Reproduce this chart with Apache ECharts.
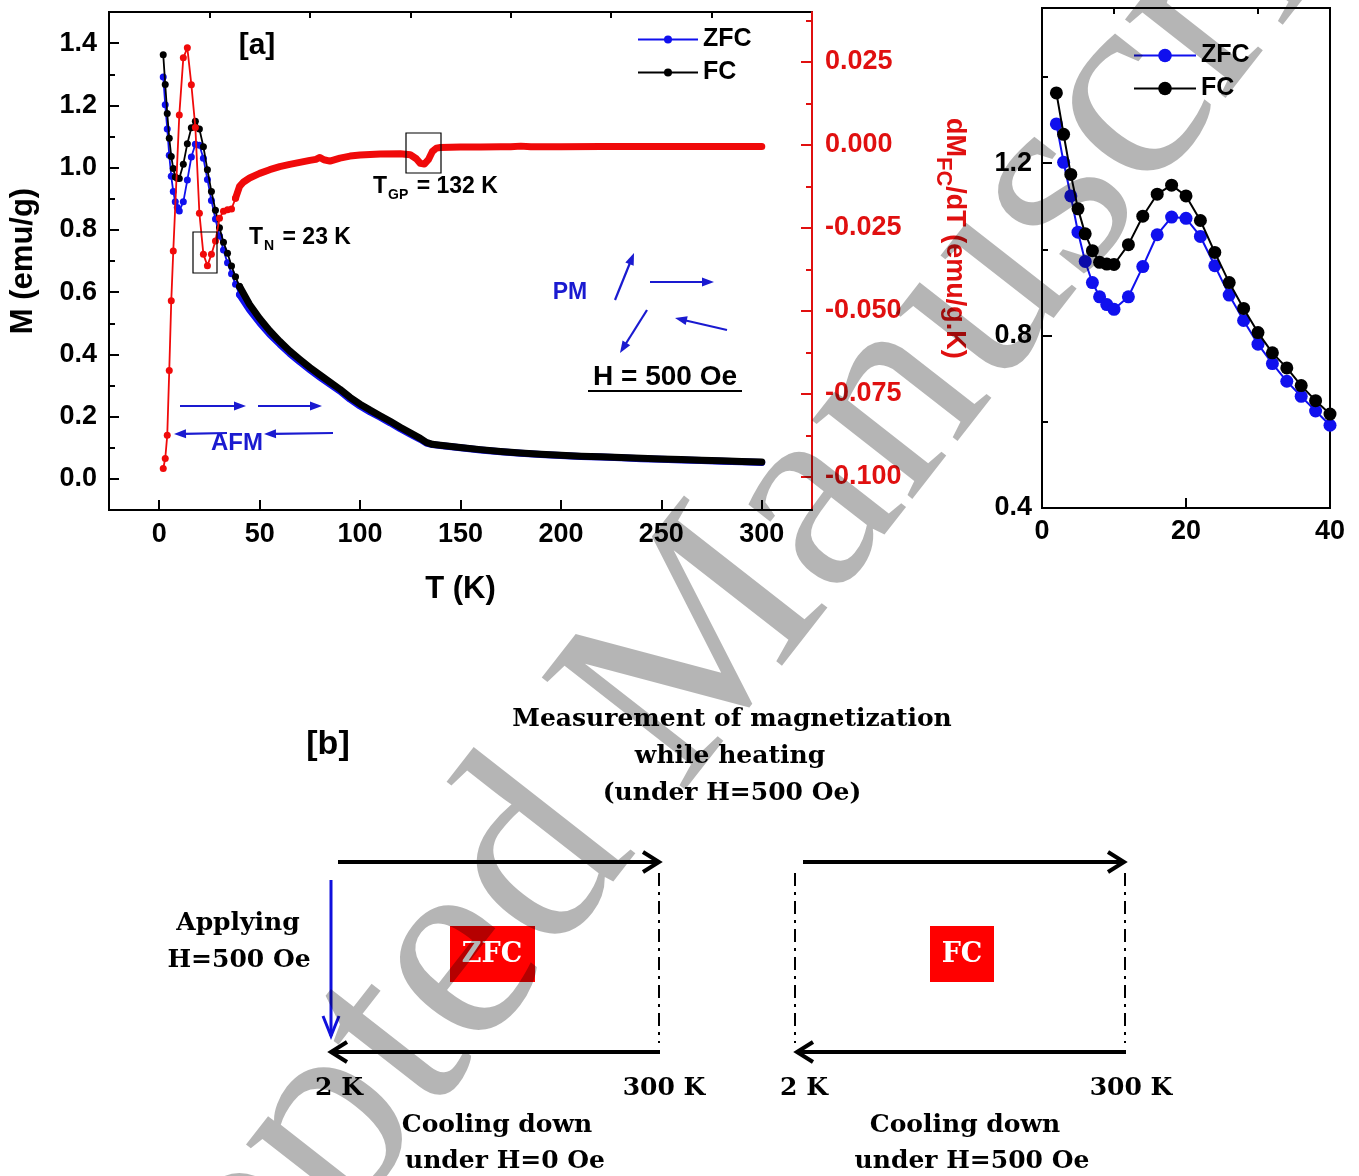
<!DOCTYPE html>
<html><head><meta charset="utf-8">
<script src="https://cdn.jsdelivr.net/npm/echarts@6/dist/echarts.min.js"></script>
<style>html,body{margin:0;padding:0;background:#fff}#c{width:1359px;height:1176px}</style>
</head><body><div id="c"></div>
<script>
// ---------- data ----------
const T_low   = [2,3,4,5,6,7,8,9,10,12,14,16,18,20,22,24,26,28,30,32,34,36,38,40];
const zfc_low = [1.291,1.202,1.124,1.040,0.972,0.923,0.890,0.872,0.861,0.890,0.960,1.034,1.075,1.072,1.030,0.962,0.894,0.835,0.780,0.735,0.694,0.659,0.625,0.592];
const fc_low  = [1.363,1.267,1.174,1.094,1.036,0.997,0.970,0.966,0.965,1.011,1.077,1.128,1.149,1.124,1.067,0.993,0.923,0.863,0.807,0.760,0.725,0.684,0.649,0.618];

const T_high   = [40,45,50,55,60,65,70,75,80,85,90,95,100,105,110,115,120,125,130,133,136,140,150,160,170,180,190,200,210,220,230,240,250,260,270,280,290,300];
const fc_high  = [0.618,0.560,0.515,0.476,0.442,0.411,0.384,0.358,0.334,0.311,0.288,0.262,0.240,0.221,0.203,0.185,0.166,0.148,0.130,0.117,0.111,0.108,0.101,0.094,0.088,0.083,0.079,0.076,0.073,0.071,0.069,0.066,0.064,0.062,0.060,0.058,0.056,0.054];
const zfc_high = [0.592,0.543,0.502,0.465,0.433,0.403,0.376,0.351,0.327,0.304,0.282,0.256,0.234,0.215,0.198,0.180,0.161,0.144,0.127,0.115,0.110,0.107,0.100,0.093,0.087,0.082,0.078,0.075,0.072,0.070,0.068,0.065,0.063,0.061,0.059,0.057,0.055,0.053];

const T_d_low = [2,3,4,5,6,7,10,12,14,16,18,20,22,24,26,28,30,32,34,36,38];
const d_low   = [-0.0975,-0.0945,-0.0875,-0.068,-0.047,-0.032,0.009,0.0262,0.0292,0.0181,0.0052,-0.0206,-0.033,-0.0364,-0.033,-0.029,-0.0221,-0.0200,-0.0196,-0.0193,-0.0161];
const T_d_high = [38,40,42,45,50,55,60,65,70,75,78,80,82,85,90,95,100,110,120,125,128,130,132,134,136,138,140,150,160,170,175,180,185,190,200,220,240,260,280,300];
const d_high   = [-0.0161,-0.0125,-0.0112,-0.0100,-0.0086,-0.0075,-0.0066,-0.0059,-0.0053,-0.0047,-0.0044,-0.0038,-0.0045,-0.0049,-0.0040,-0.0034,-0.0031,-0.0028,-0.0027,-0.0030,-0.0042,-0.0056,-0.0058,-0.0045,-0.0020,-0.0010,-0.0008,-0.0007,-0.0007,-0.0006,-0.0006,-0.0004,-0.0006,-0.0006,-0.0006,-0.0005,-0.0005,-0.0005,-0.0005,-0.0005];

// tick labels
const xMajor = [0,50,100,150,200,250,300];
const xMinor = [25,75,125,175,225,275];
const yMajor = [0,0.2,0.4,0.6,0.8,1.0,1.2,1.4];
const yMinor = [0.1,0.3,0.5,0.7,0.9,1.1,1.3];
const rMajor = [-0.1,-0.075,-0.05,-0.025,0,0.025];
const rMinor = [-0.0875,-0.0625,-0.0375,-0.0125,0.0125,0.0375];
const ixMajor = [0,20,40];
const ixMinor = [10,30];
const iyLabels = [0.4,0.8,1.2];
const iyMajor = [0.8,1.2];
const iyMinor = [0.6,1.0,1.4];

// ---------- style ----------
const SANS = "'Liberation Sans', Arial, sans-serif";
const SERIF = "'DejaVu Serif', serif";
const BLUE = '#1010ee', BLACK = '#000', RED = '#f00a0a', RAX = '#e01010', ABLUE = '#1a1ad0';

const pairs = (xs, ys) => xs.map((x, i) => [x, ys[i]]);

function tickAxis(extra) {
  return Object.assign({
    type: 'value', splitLine: {show: false},
    axisLine: {show: false, onZero: false},
    axisTick: {show: false}, axisLabel: {show: false}
  }, extra);
}
const lab = (vals, fmt, color, margin) => ({
  show: true, customValues: vals, formatter: fmt, color: color || '#000',
  fontSize: 27, fontWeight: 'bold', fontFamily: SANS, margin: margin
});
const tk = (vals, len, color) => ({
  show: true, inside: true, customValues: vals, length: len,
  lineStyle: {color: color || '#000', width: 2}
});
const line = (color) => ({show: true, onZero: false, lineStyle: {color: color, width: 2}});

// ---------- graphic helpers ----------
function arrowFilled(x1, y1, x2, y2, color, w, hl, hw) {
  const dx = x2 - x1, dy = y2 - y1, L = Math.hypot(dx, dy), ux = dx / L, uy = dy / L;
  const bx = x2 - ux * hl, by = y2 - uy * hl, px = -uy, py = ux;
  return [
    {type: 'line', shape: {x1: x1, y1: y1, x2: bx + ux * 2, y2: by + uy * 2}, style: {stroke: color, lineWidth: w}},
    {type: 'polygon', shape: {points: [[x2, y2], [bx + px * hw, by + py * hw], [bx - px * hw, by - py * hw]]}, style: {fill: color}}
  ];
}
function arrowOpen(x1, y1, x2, y2, color, w, hl, hw) {
  const dx = x2 - x1, dy = y2 - y1, L = Math.hypot(dx, dy), ux = dx / L, uy = dy / L;
  const bx = x2 - ux * hl, by = y2 - uy * hl, px = -uy, py = ux;
  return [
    {type: 'line', shape: {x1: x1, y1: y1, x2: x2, y2: y2}, style: {stroke: color, lineWidth: w}},
    {type: 'polyline', shape: {points: [[bx + px * hw, by + py * hw], [x2, y2], [bx - px * hw, by - py * hw]]}, style: {stroke: color, lineWidth: w, fill: null}}
  ];
}
function txt(x, y, s, size, opts) {
  opts = opts || {};
  return {type: 'text', x: x, y: y, z: opts.z || 50,
    style: {text: s, fill: opts.color || '#000', fontSize: size, fontWeight: opts.weight || 'bold',
      fontFamily: opts.family || SANS, textAlign: opts.align || 'center', textVerticalAlign: 'middle'}};
}

const g = [];
// panel (a) annotations
g.push(txt(257, 46, '[a]', 30));
g.push({type: 'rect', shape: {x: 193, y: 232, width: 24, height: 41}, style: {fill: null, stroke: '#000', lineWidth: 1.2}, z: 60});
g.push({type: 'rect', shape: {x: 406, y: 133, width: 35, height: 40}, style: {fill: null, stroke: '#000', lineWidth: 1.2}, z: 60});
const richA = {
  a: {fontSize: 23, fontWeight: 'bold', fontFamily: SANS, fill: '#000', lineHeight: 24, verticalAlign: 'top'},
  b: {fontSize: 14, fontWeight: 'bold', fontFamily: SANS, fill: '#000', lineHeight: 14, padding: [13, 2, 0, 1], verticalAlign: 'top'}
};
g.push({type: 'text', x: 249, y: 226, z: 50, style: {text: '{a|T}{b|N}{a| = 23 K}', rich: richA, textAlign: 'left', textVerticalAlign: 'top'}});
g.push({type: 'text', x: 373, y: 175, z: 50, style: {text: '{a|T}{b|GP}{a| = 132 K}', rich: richA, textAlign: 'left', textVerticalAlign: 'top'}});
g.push(txt(570, 293, 'PM', 23, {color: ABLUE}));
g.push(txt(665, 377, 'H = 500 Oe', 28));
g.push({type: 'line', shape: {x1: 588, y1: 391, x2: 742, y2: 391}, style: {stroke: '#000', lineWidth: 2}});
g.push(txt(237, 443, 'AFM', 24, {color: ABLUE}));
[].concat(
  arrowFilled(615, 300, 634, 253, ABLUE, 2.2, 12, 4.5),
  arrowFilled(650, 282, 714, 282, ABLUE, 2.2, 12, 4.5),
  arrowFilled(647, 310, 620, 353, ABLUE, 2.2, 12, 4.5),
  arrowFilled(727, 330, 675, 318, ABLUE, 2.2, 12, 4.5),
  arrowFilled(180, 406, 246, 406, ABLUE, 2.2, 12, 4.5),
  arrowFilled(258, 406, 322, 406, ABLUE, 2.2, 12, 4.5),
  arrowFilled(333, 433, 264, 434, ABLUE, 2.2, 12, 4.5),
  arrowFilled(227, 433, 174, 434, ABLUE, 2.2, 12, 4.5)
).forEach(e => g.push(e));

// red axis title (rich, rotated, reading top to bottom)
g.push({type: 'text', x: 968, y: 118, rotation: -Math.PI / 2, z: 50,
  style: {text: '{a|dM}{b|FC}{a|/dT (emu/g.K)}', textAlign: 'left', textVerticalAlign: 'top',
    rich: {
      a: {fontSize: 27, fontWeight: 'bold', fontFamily: SANS, fill: RAX, lineHeight: 28, verticalAlign: 'top'},
      b: {fontSize: 22, fontWeight: 'bold', fontFamily: SANS, fill: RAX, lineHeight: 22, padding: [14, 0, 0, 0], verticalAlign: 'top'}
    }}});

// panel (b) schematic
g.push(txt(328, 745, '[b]', 34));
g.push(txt(732, 719, 'Measurement of magnetization', 25, {family: SERIF}));
g.push(txt(730, 756, 'while heating', 25, {family: SERIF}));
g.push(txt(732, 793, '(under H=500 Oe)', 25, {family: SERIF}));
[].concat(
  arrowOpen(338, 862, 659, 862, '#000', 4, 16, 10),
  arrowOpen(660, 1052, 331, 1052, '#000', 4, 16, 10),
  arrowOpen(803, 862, 1124, 862, '#000', 4, 16, 10),
  arrowOpen(1126, 1052, 797, 1052, '#000', 4, 16, 10),
  arrowOpen(331, 880, 331, 1036, '#1010dd', 3, 20, 8)
).forEach(e => g.push(e));
const dashDot = [13, 6, 3, 6];
[[659, 873], [795, 873], [1125, 873]].forEach(p => g.push({type: 'line', shape: {x1: p[0], y1: p[1], x2: p[0], y2: 1043},
  style: {stroke: '#000', lineWidth: 2, lineDash: dashDot}}));
g.push({type: 'rect', shape: {x: 450, y: 926, width: 85, height: 56}, style: {fill: '#ff0000'}, z: 40});
g.push({type: 'rect', shape: {x: 930, y: 926, width: 64, height: 56}, style: {fill: '#ff0000'}, z: 40});
g.push(txt(492, 955, 'ZFC', 27, {family: SERIF, color: '#fff'}));
g.push(txt(962, 955, 'FC', 27, {family: SERIF, color: '#fff'}));
g.push(txt(238, 923, 'Applying', 25, {family: SERIF}));
g.push(txt(239, 960, 'H=500 Oe', 25, {family: SERIF}));
g.push(txt(339, 1088, '2 K', 25, {family: SERIF}));
g.push(txt(664, 1088, '300 K', 25, {family: SERIF}));
g.push(txt(804, 1088, '2 K', 25, {family: SERIF}));
g.push(txt(1131, 1088, '300 K', 25, {family: SERIF}));
g.push(txt(497, 1125, 'Cooling down', 25, {family: SERIF}));
g.push(txt(505, 1161, 'under H=0 Oe', 25, {family: SERIF}));
g.push(txt(965, 1125, 'Cooling down', 25, {family: SERIF}));
g.push(txt(972, 1161, 'under H=500 Oe', 25, {family: SERIF}));

// watermark (translucent black over everything = multiply by light grey)
g.push({type: 'text', x: 668, y: 693, rotation: 52 * Math.PI / 180, z: 200, silent: true,
  style: {text: 'Accepted Manuscript', fill: 'rgba(0,0,0,0.29)', fontSize: 278, fontFamily: "'Liberation Serif', serif",
    fontWeight: 'normal', textAlign: 'center', textVerticalAlign: 'middle'}});

// ---------- chart ----------
const chart = echarts.init(document.getElementById('c'));
const option = {
  animation: false,
  backgroundColor: '#fff',
  grid: [
    {left: 107, top: 12, width: 705, height: 498, show: true, borderColor: '#000', borderWidth: 2, backgroundColor: 'transparent'},
    {left: 1042, top: 8, width: 288, height: 500, show: true, borderColor: '#000', borderWidth: 2, backgroundColor: 'transparent'}
  ],
  legend: [
    {left: 632, top: 22, orient: 'vertical', itemWidth: 60, itemHeight: 10, itemGap: 8,
      data: ['ZFC', 'FC'], selectedMode: false,
      textStyle: {fontSize: 25, fontWeight: 'bold', fontFamily: SANS, color: '#000'}},
    {left: 1128, top: 38, orient: 'vertical', itemWidth: 62, itemHeight: 17, itemGap: 8,
      data: ['ZFC ', 'FC '], selectedMode: false, formatter: n => n.trim(),
      textStyle: {fontSize: 25, fontWeight: 'bold', fontFamily: SANS, color: '#000'}}
  ],
  xAxis: [
    tickAxis({gridIndex: 0, min: -25, max: 325, axisLine: line('#000'), axisTick: tk(xMajor, 10),
      axisLabel: lab(xMajor, v => String(v), '#000', 11),
      name: 'T (K)', nameLocation: 'middle', nameGap: 64,
      nameTextStyle: {fontSize: 31, fontWeight: 'bold', fontFamily: SANS, color: '#000'}}),
    tickAxis({gridIndex: 0, min: -25, max: 325, axisTick: tk(xMinor, 6)}),
    tickAxis({gridIndex: 1, min: 0, max: 40, axisLine: line('#000'), axisTick: tk([20], 10),
      axisLabel: lab(ixMajor, v => String(v), '#000', 10)}),
    tickAxis({gridIndex: 1, min: 0, max: 40, axisTick: tk(ixMinor, 6)})
  ],
  yAxis: [
    tickAxis({gridIndex: 0, position: 'left', min: -0.1, max: 1.5, axisLine: line('#000'), axisTick: tk(yMajor, 10),
      axisLabel: lab(yMajor, v => v.toFixed(1), '#000', 12),
      name: 'M (emu/g)', nameLocation: 'middle', nameGap: 70, nameRotate: 90,
      nameTextStyle: {fontSize: 31, fontWeight: 'bold', fontFamily: SANS, color: '#000'}}),
    tickAxis({gridIndex: 0, position: 'left', min: -0.1, max: 1.5, axisTick: tk(yMinor, 6)}),
    tickAxis({gridIndex: 0, position: 'right', min: -0.11, max: 0.04, axisLine: line(RAX), axisTick: tk(rMajor, 11, RAX),
      axisLabel: lab(rMajor, v => v.toFixed(3), RAX, 13)}),
    tickAxis({gridIndex: 0, position: 'right', min: -0.11, max: 0.04, axisTick: tk(rMinor, 6, RAX)}),
    tickAxis({gridIndex: 1, position: 'left', min: 0.4, max: 1.56, axisLine: line('#000'), axisTick: tk(iyMajor, 10),
      axisLabel: lab(iyLabels, v => v.toFixed(1), '#000', 10)}),
    tickAxis({gridIndex: 1, position: 'left', min: 0.4, max: 1.56, axisTick: tk(iyMinor, 6)})
  ],
  series: [
    {name: 'ZFC', type: 'line', xAxisIndex: 0, yAxisIndex: 0, data: pairs(T_low, zfc_low), symbol: 'circle', symbolSize: 7,
      lineStyle: {color: BLUE, width: 1.8}, itemStyle: {color: BLUE}, z: 3},
    {name: 'ZFC', type: 'line', xAxisIndex: 0, yAxisIndex: 0, data: pairs(T_high, zfc_high), symbol: 'none',
      lineStyle: {color: BLUE, width: 7, cap: 'round', join: 'round'}, itemStyle: {color: BLUE}, z: 3},
    {name: 'FC', type: 'line', xAxisIndex: 0, yAxisIndex: 0, data: pairs(T_low, fc_low), symbol: 'circle', symbolSize: 7,
      lineStyle: {color: BLACK, width: 1.8}, itemStyle: {color: BLACK}, z: 4},
    {name: 'FC', type: 'line', xAxisIndex: 0, yAxisIndex: 0, data: pairs(T_high, fc_high), symbol: 'none',
      lineStyle: {color: BLACK, width: 7, cap: 'round', join: 'round'}, itemStyle: {color: BLACK}, z: 4},
    {name: 'dMdT', type: 'line', xAxisIndex: 0, yAxisIndex: 2, data: pairs(T_d_low, d_low), symbol: 'circle', symbolSize: 7,
      lineStyle: {color: RED, width: 1.8}, itemStyle: {color: RED}, z: 5},
    {name: 'dMdT', type: 'line', xAxisIndex: 0, yAxisIndex: 2, data: pairs(T_d_high, d_high), symbol: 'none',
      lineStyle: {color: RED, width: 7, cap: 'round', join: 'round'}, itemStyle: {color: RED}, z: 5},
    {name: 'ZFC ', type: 'line', xAxisIndex: 2, yAxisIndex: 4, data: pairs(T_low, zfc_low), symbol: 'circle', symbolSize: 13,
      lineStyle: {color: BLUE, width: 2}, itemStyle: {color: BLUE}, z: 3},
    {name: 'FC ', type: 'line', xAxisIndex: 2, yAxisIndex: 4, data: pairs(T_low, fc_low), symbol: 'circle', symbolSize: 13,
      lineStyle: {color: BLACK, width: 2}, itemStyle: {color: BLACK}, z: 4}
  ],
  graphic: g
};
chart.setOption(option);
</script>
</body></html>
